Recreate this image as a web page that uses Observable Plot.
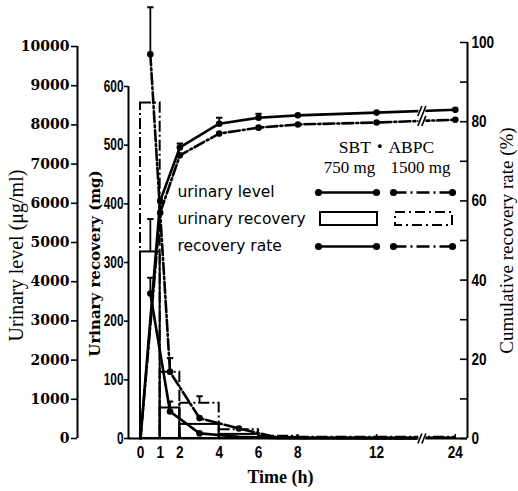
<!DOCTYPE html>
<html><head><meta charset="utf-8">
<script src="https://cdn.jsdelivr.net/npm/d3@7"></script>
<script src="https://cdn.jsdelivr.net/npm/@observablehq/plot@0.6"></script>
<style>
html,body{margin:0;padding:0;background:#fff;}
#chart{width:518px;height:491px;}
</style></head><body><div id="chart"></div>
<script>
// ---------------- data ----------------
// urinary level (μg/ml), plotted at mid-points of the collection periods
const levelTimes = [0.5, 1.5, 3, 5, 7, 10, 18];
const level750  = [3700, 690, 130, 45, 10, 5, 3];
const level1500 = [9800, 1700, 520, 255, 20, 10, 5];
const level750Upper  = [4100, null, null, null, null, null, null];
const level1500Upper = [11000, null, null, null, null, null, null];

// urinary recovery (mg) per collection period
const periodStart = [0, 1, 2, 4, 6, 8, 12];
const periodEnd   = [1, 2, 4, 6, 8, 12, 24];
const recovery750  = [318, 52, 24, 7, 2, 1, 1];
const recovery1500 = [572, 113, 60, 15, 4, 2, 2];
const recovery750Upper  = [374, 63, null, null, null, null, null];
const recovery1500Upper = [null, 137, 72, null, null, null, null];

// cumulative recovery rate (%)
const rateTimes = [0, 1, 2, 4, 6, 8, 12, 24];
const rate750  = [0, 60, 73.5, 79.5, 81, 81.6, 82.3, 83];
const rate1500 = [0, 57, 71.5, 77, 78.5, 79.3, 79.8, 80.5];
const rate750Upper = [null, null, 74.5, 81, 82, null, null, null];

// tick values
const xTickValues = [0, 1, 2, 4, 6, 8, 12, 24];
const levelTickValues = [0,1000,2000,3000,4000,5000,6000,7000,8000,9000,10000];
const recoveryTickValues = [0,100,200,300,400,500,600];
const rateTickValues = [0,10,20,30,40,50,60,70,80,90,100];
const rateLabelValues = [0,20,40,60,80,100];

// legend texts
const legendTitle = "SBT・ABPC";
const doseLabels = ["750 mg", "1500 mg"];
const legendRows = ["urinary level", "urinary recovery", "recovery rate"];

// ---------------- scales / helpers ----------------
const W = 518, H = 491, mL = 128, mR = 51, mT = 42, mB = 53;
const frameW = W - mL - mR, frameH = H - mT - mB;
const xDomain = [-0.61, 16.62];
const tx = t => t <= 12 ? t : 12 + (t - 12) / 3;   // broken time axis (12–24 h compressed)
const kL = 0.009899;   // μg/ml  -> shared y units (right axis %)
const kM = 0.14815;    // mg     -> shared y units
const breakT = 14.3;   // display position of the axis break
const px2x = px => xDomain[0] + (px - mL) / frameW * (xDomain[1] - xDomain[0]);
const py2y = py => (H - mB - py) / frameH * 100;

const DASH = "11,3,2,3";
const SERIF = "'Liberation Serif','DejaVu Serif',serif";
const SANS = "'Liberation Sans',Arial,sans-serif";

const levelRows = (vals) => levelTimes.map((t, i) => ({x: tx(t), y: vals[i] * kL}));
const errRows = (xs, vals, ups, k) => xs.map((t, i) => ({x: t, y1: vals[i] * k, y2: ups[i] == null ? null : ups[i] * k})).filter(d => d.y2 != null);
const recRows = (vals) => periodStart.map((s, i) => ({x1: tx(s), x2: tx(periodEnd[i]), y: vals[i] * kM}));
const rateRows = (vals) => rateTimes.map((t, i) => ({x: tx(t), y: vals[i]}));

const lvl750 = levelRows(level750), lvl1500 = levelRows(level1500);
const rec750 = recRows(recovery750), rec1500 = recRows(recovery1500);
const rt750 = rateRows(rate750), rt1500 = rateRows(rate1500);
const mids = periodStart.map((s, i) => tx((s + periodEnd[i]) / 2));

const levelErr = [...errRows(levelTimes.map(tx), level750, level750Upper, kL), ...errRows(levelTimes.map(tx), level1500, level1500Upper, kL)];
const recErr = [...errRows(mids, recovery750, recovery750Upper, kM), ...errRows(mids, recovery1500, recovery1500Upper, kM)];
const rateErr = errRows(rateTimes.map(tx), rate750, rate750Upper, 1);
const allErr = [...levelErr, ...recErr, ...rateErr];

// break positions on the two rate lines (interpolated between 12 h and 24 h)
const f = (breakT - 12) / (tx(24) - 12);
const breaks = [
  {x: breakT, y: 0},
  {x: breakT, y: rate750[6] + f * (rate750[7] - rate750[6])},
  {x: breakT, y: rate1500[6] + f * (rate1500[7] - rate1500[6])}
];

const capSymbol = {draw(ctx, size) { const w = Math.sqrt(size) / 2; ctx.moveTo(-w, 0); ctx.lineTo(w, 0); }};
const gapSymbol = {draw(ctx) { ctx.rect(-3.5, -4, 7, 8); }};
const slashSymbol = {draw(ctx) { for (const o of [-2, 2]) { ctx.moveTo(o - 2, 5); ctx.lineTo(o + 2, -5); } }};

const levelLabel = new Map(levelTickValues.map(v => [v * kL, String(v)]));
const recLabel = new Map(recoveryTickValues.map(v => [v * kM, String(v)]));
const xLabel = new Map(xTickValues.map(v => [tx(v), String(v)]));

// legend geometry (pixels)
const legLineY = [192, 246];
const legSeg = [[318, 376], [393, 452]];
const legRect = [[320, 377], [395, 452]];
const legRectY = [212, 225];
const legLines = [];
legLineY.forEach(py => legSeg.forEach((s, j) => legLines.push({x1: px2x(s[0]), x2: px2x(s[1]), y: py2y(py), dash: j === 1})));
const legBoxes = legRect.map((r, j) => ({x1: px2x(r[0]), x2: px2x(r[1]), y1: py2y(legRectY[1]), y2: py2y(legRectY[0]), dash: j === 1}));
const legDots = legLines.flatMap(d => [{x: d.x1, y: d.y}, {x: d.x2, y: d.y}]);

const txt = (s, dx, dy, o = {}) => Plot.text([s], {frameAnchor: "top-left", dx, dy, fill: "black", ...o});

const chart = Plot.plot({
  width: W, height: H,
  marginLeft: mL, marginRight: mR, marginTop: mT, marginBottom: mB,
  x: {domain: xDomain, axis: null},
  y: {domain: [0, 100], axis: null},
  style: {background: "white", color: "black", overflow: "visible"},
  marks: [
    // recovery boxes
    Plot.rect(rec750, {x1: "x1", x2: "x2", y1: 0, y2: "y", fill: "none", stroke: "black", strokeWidth: 2}),
    Plot.rect(rec1500, {x1: "x1", x2: "x2", y1: 0, y2: "y", fill: "none", stroke: "black", strokeWidth: 2, strokeDasharray: DASH}),
    // urinary level lines
    Plot.line(lvl750, {x: "x", y: "y", stroke: "black", strokeWidth: 2.6}),
    Plot.line(lvl1500, {x: "x", y: "y", stroke: "black", strokeWidth: 2.6, strokeDasharray: DASH}),
    // cumulative recovery lines
    Plot.line(rt750, {x: "x", y: "y", stroke: "black", strokeWidth: 2.6}),
    Plot.line(rt1500, {x: "x", y: "y", stroke: "black", strokeWidth: 2.6, strokeDasharray: DASH}),
    // error bars
    Plot.ruleX(allErr, {x: "x", y1: "y1", y2: "y2", stroke: "black", strokeWidth: 1.8}),
    Plot.dot(allErr, {x: "x", y: "y2", r: 3.6, symbol: capSymbol, stroke: "black", strokeWidth: 2}),
    // markers
    Plot.dot([...lvl750, ...lvl1500].filter(d => d.y > 0.8), {x: "x", y: "y", r: 3.3, fill: "black"}),
    Plot.dot([...rt750, ...rt1500].filter(d => d.y > 0), {x: "x", y: "y", r: 3.3, fill: "black"}),
    // axes lines
    Plot.ruleY([0], {x1: xDomain[0], x2: xDomain[1], stroke: "black", strokeWidth: 2}),
    Plot.ruleX([xDomain[1]], {y1: 0, y2: 100, stroke: "black", strokeWidth: 2}),
    Plot.ruleX([xDomain[0]], {y1: 0, y2: 600 * kM, stroke: "black", strokeWidth: 2}),
    Plot.ruleX([xDomain[0]], {y1: 0, y2: 10000 * kL, dx: -51, stroke: "black", strokeWidth: 2}),
    // axis break
    Plot.dot(breaks, {x: "x", y: "y", symbol: gapSymbol, r: 4, fill: "white", stroke: "none"}),
    Plot.dot(breaks, {x: "x", y: "y", symbol: slashSymbol, r: 4, fill: "none", stroke: "black", strokeWidth: 1.6}),
    // x ticks (inward)
    Plot.tickX(xTickValues, {x: d => tx(d), insetTop: frameH - 4, stroke: "black", strokeWidth: 1.5}),
    // right axis ticks (inward)
    Plot.tickY(rateTickValues, {y: d => d, insetLeft: frameW - 7, stroke: "black", strokeWidth: 1.6}),
    Plot.axisX({ticks: xTickValues.map(tx), tickFormat: d => xLabel.get(d), tickSize: 0, tickPadding: 8, label: null,
      fontSize: 16, fontWeight: "bold", fontFamily: SANS}),
    Plot.axisY({anchor: "right", ticks: rateLabelValues, tickSize: 0, tickPadding: 4, label: null,
      fontSize: 17, fontWeight: "bold", fontFamily: SANS}),
    Plot.axisY({anchor: "left", ticks: recoveryTickValues.map(v => v * kM), tickFormat: d => recLabel.get(d), tickSize: 4, tickPadding: 1, label: null,
      fontSize: 16, fontWeight: "bold", fontFamily: SANS, strokeWidth: 1.6}),
    Plot.axisY({anchor: "left", ticks: levelTickValues.map(v => v * kL), tickFormat: d => levelLabel.get(d), tickSize: 6, tickPadding: 2, dx: -51, label: null,
      fontSize: 14, fontWeight: "bold", fontFamily: "'DejaVu Serif',serif", strokeWidth: 1.6}),
    // axis titles
    txt("Urinary level (μg/ml)", 16 - mL, 255 - mT, {rotate: -90, fontSize: 20, fontFamily: SERIF, textAnchor: "middle", lineAnchor: "middle"}),
    txt("Urinary recovery (mg)", 95 - mL, 263 - mT, {rotate: -90, fontSize: 15, fontWeight: "bold", fontFamily: "'DejaVu Serif',serif", textAnchor: "middle", lineAnchor: "middle"}),
    txt("Cumulative recovery rate (%)", 506 - mL, 240 - mT, {rotate: -90, fontSize: 19, fontFamily: SERIF, textAnchor: "middle", lineAnchor: "middle"}),
    txt("Time (h)", 280 - mL, 477 - mT, {fontSize: 18, fontWeight: "bold", fontFamily: SERIF, textAnchor: "middle", lineAnchor: "middle"}),
    // legend
    txt(legendTitle, 386 - mL, 147 - mT, {fontSize: 17.5, fontFamily: SERIF + ",'Noto Sans CJK JP'", textAnchor: "middle", lineAnchor: "middle"}),
    txt(doseLabels[0], 349 - mL, 167 - mT, {fontSize: 17, fontFamily: SERIF, textAnchor: "middle", lineAnchor: "middle"}),
    txt(doseLabels[1], 420 - mL, 167 - mT, {fontSize: 17, fontFamily: SERIF, textAnchor: "middle", lineAnchor: "middle"}),
    ...legendRows.map((s, i) => txt(s, 177 - mL, 192 + 27 * i - mT, {fontSize: 15.5, fontFamily: "'DejaVu Sans',sans-serif", textAnchor: "start", lineAnchor: "middle"})),
    Plot.link(legLines.filter(d => !d.dash), {x1: "x1", x2: "x2", y1: "y", y2: "y", stroke: "black", strokeWidth: 2.6}),
    Plot.link(legLines.filter(d => d.dash), {x1: "x1", x2: "x2", y1: "y", y2: "y", stroke: "black", strokeWidth: 2.6, strokeDasharray: "13,4,2,4"}),
    Plot.dot(legDots, {x: "x", y: "y", r: 3.6, fill: "black"}),
    Plot.rect(legBoxes.filter(d => !d.dash), {x1: "x1", x2: "x2", y1: "y1", y2: "y2", fill: "none", stroke: "black", strokeWidth: 2}),
    Plot.rect(legBoxes.filter(d => d.dash), {x1: "x1", x2: "x2", y1: "y1", y2: "y2", fill: "none", stroke: "black", strokeWidth: 2, strokeDasharray: "10,4,2,4"})
  ]
});
document.getElementById("chart").appendChild(chart);

// condensed look of the tick-label typeface
const squeeze = (sel, s) => d3.select(chart).selectAll(sel).each(function () {
  this.setAttribute("transform", (this.getAttribute("transform") || "") + ` scale(${s},1)`);
});
const yLabelGroups = d3.select(chart).selectAll('g[aria-label="y-axis tick label"]').nodes();
if (yLabelGroups[0]) d3.select(yLabelGroups[0]).selectAll("text").each(function () { this.setAttribute("transform", (this.getAttribute("transform") || "") + " scale(0.8,1)"); });
if (yLabelGroups[1]) d3.select(yLabelGroups[1]).selectAll("text").each(function () { this.setAttribute("transform", (this.getAttribute("transform") || "") + " scale(0.74,1)"); });
squeeze('g[aria-label="x-axis tick label"] text', 0.85);
</script>
</body></html>
